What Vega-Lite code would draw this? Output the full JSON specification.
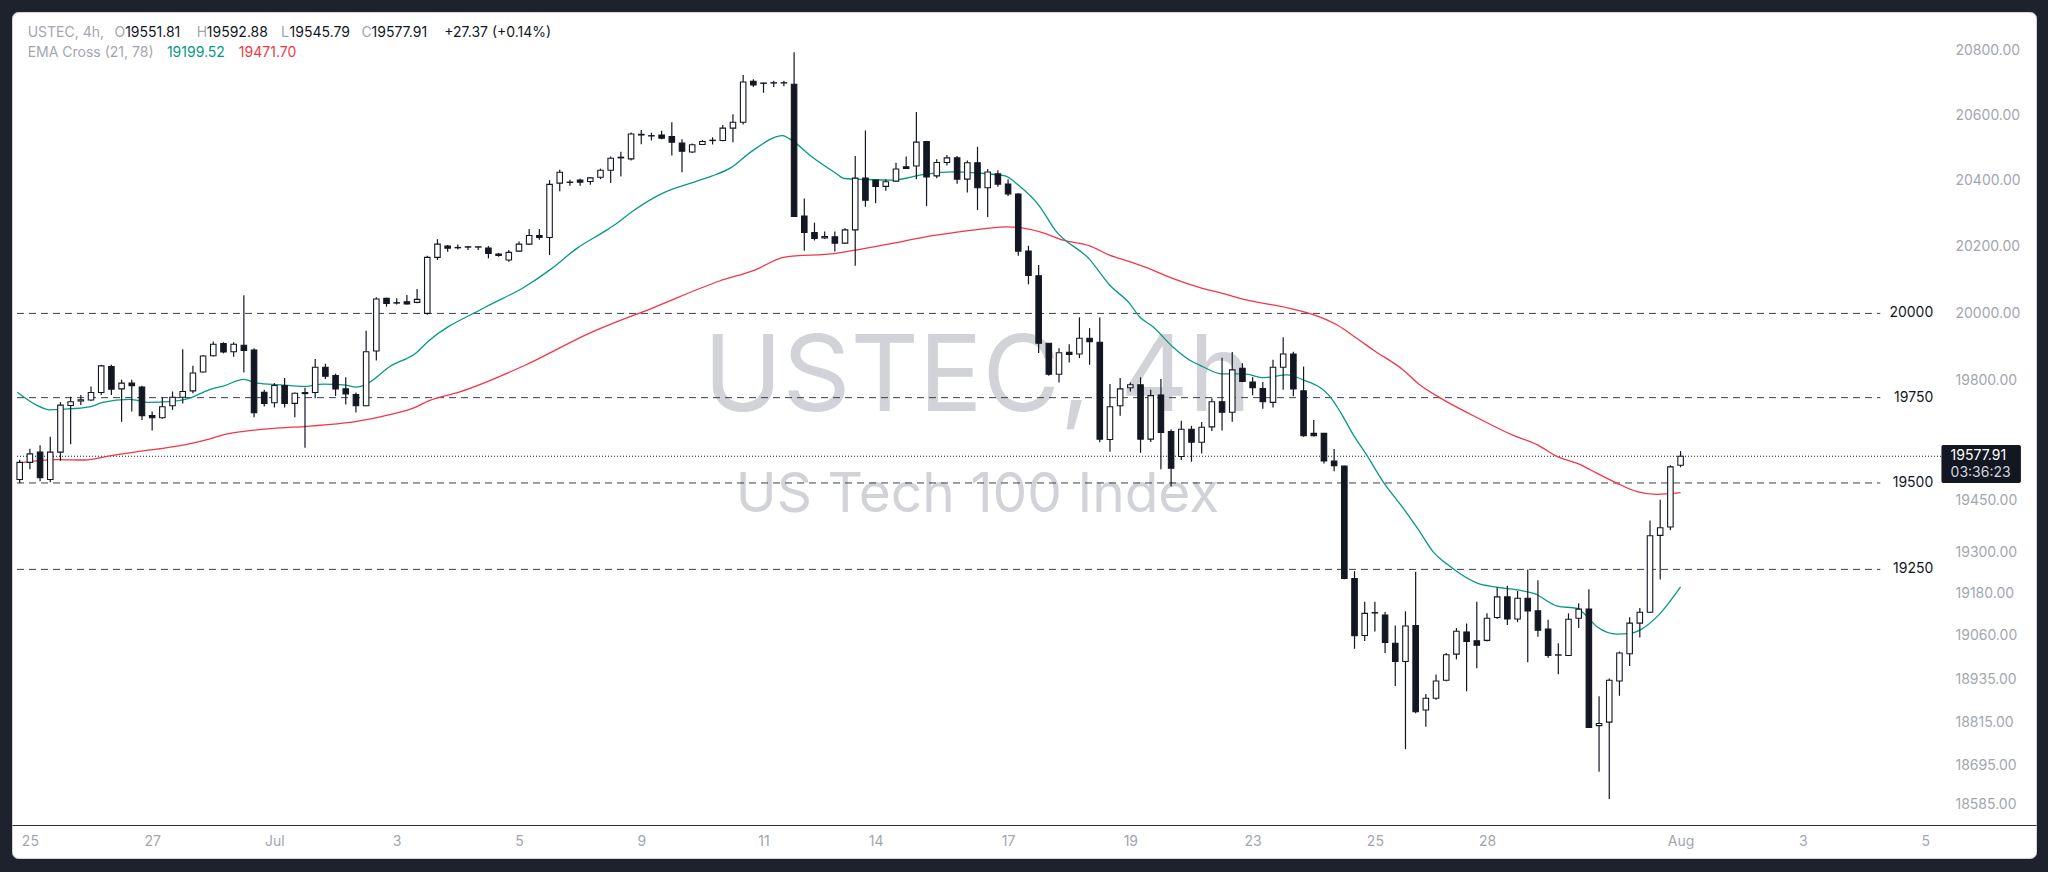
{
  "$schema": "https://vega.github.io/schema/vega-lite/v6.json",
  "width": 2024,
  "height": 846,
  "autosize": {"type": "none"},
  "padding": {"left": 12, "top": 12, "right": 12, "bottom": 14},
  "background": "#1e222d",
  "config": {
    "view": {"fill": "#ffffff", "stroke": "#d1d4dc", "cornerRadius": 6},
    "font": "Inter",
    "text": {"font": "Inter"},
    "axis": {"grid": false, "ticks": false, "title": null}
  },
  "datasets": {
    "candles": [
      {"i":0,"o":19510,"h":19568,"l":19500,"c":19560},
      {"i":1,"o":19560,"h":19600,"l":19540,"c":19585},
      {"i":2,"o":19590,"h":19610,"l":19505,"c":19515},
      {"i":3,"o":19510,"h":19635,"l":19502,"c":19590},
      {"i":4,"o":19590,"h":19737,"l":19565,"c":19728},
      {"i":5,"o":19727,"h":19753,"l":19613,"c":19738},
      {"i":6,"o":19740,"h":19758,"l":19728,"c":19744},
      {"i":7,"o":19743,"h":19783,"l":19740,"c":19765},
      {"i":8,"o":19765,"h":19847,"l":19758,"c":19844},
      {"i":9,"o":19842,"h":19847,"l":19758,"c":19775},
      {"i":10,"o":19776,"h":19803,"l":19679,"c":19793},
      {"i":11,"o":19793,"h":19803,"l":19709,"c":19785},
      {"i":12,"o":19781,"h":19785,"l":19684,"c":19697},
      {"i":13,"o":19697,"h":19709,"l":19653,"c":19691},
      {"i":14,"o":19691,"h":19751,"l":19688,"c":19723},
      {"i":15,"o":19726,"h":19768,"l":19714,"c":19751},
      {"i":16,"o":19751,"h":19893,"l":19733,"c":19768},
      {"i":17,"o":19770,"h":19844,"l":19763,"c":19823},
      {"i":18,"o":19826,"h":19876,"l":19824,"c":19873},
      {"i":19,"o":19874,"h":19916,"l":19872,"c":19908},
      {"i":20,"o":19910,"h":19914,"l":19881,"c":19885},
      {"i":21,"o":19886,"h":19914,"l":19871,"c":19908},
      {"i":22,"o":19905,"h":20054,"l":19824,"c":19890},
      {"i":23,"o":19891,"h":19896,"l":19692,"c":19706},
      {"i":24,"o":19766,"h":19773,"l":19724,"c":19733},
      {"i":25,"o":19735,"h":19793,"l":19721,"c":19786},
      {"i":26,"o":19786,"h":19808,"l":19721,"c":19733},
      {"i":27,"o":19733,"h":19765,"l":19692,"c":19763},
      {"i":28,"o":19765,"h":19779,"l":19603,"c":19762},
      {"i":29,"o":19765,"h":19864,"l":19748,"c":19840},
      {"i":30,"o":19840,"h":19850,"l":19805,"c":19813},
      {"i":31,"o":19815,"h":19821,"l":19755,"c":19776},
      {"i":32,"o":19776,"h":19810,"l":19730,"c":19761},
      {"i":33,"o":19759,"h":19765,"l":19706,"c":19726},
      {"i":34,"o":19726,"h":19948,"l":19725,"c":19886},
      {"i":35,"o":19888,"h":20048,"l":19860,"c":20043},
      {"i":36,"o":20045,"h":20047,"l":20020,"c":20030},
      {"i":37,"o":20032,"h":20045,"l":20027,"c":20031},
      {"i":38,"o":20035,"h":20055,"l":20027,"c":20028},
      {"i":39,"o":20033,"h":20073,"l":20030,"c":20042},
      {"i":40,"o":20000,"h":20173,"l":19996,"c":20168},
      {"i":41,"o":20168,"h":20223,"l":20160,"c":20208},
      {"i":42,"o":20202,"h":20205,"l":20185,"c":20196},
      {"i":43,"o":20197,"h":20207,"l":20192,"c":20198},
      {"i":44,"o":20200,"h":20201,"l":20190,"c":20199},
      {"i":45,"o":20199,"h":20201,"l":20190,"c":20200},
      {"i":46,"o":20196,"h":20202,"l":20165,"c":20180},
      {"i":47,"o":20178,"h":20181,"l":20170,"c":20174},
      {"i":48,"o":20160,"h":20190,"l":20155,"c":20183},
      {"i":49,"o":20187,"h":20216,"l":20185,"c":20208},
      {"i":50,"o":20208,"h":20254,"l":20205,"c":20234},
      {"i":51,"o":20234,"h":20254,"l":20221,"c":20228},
      {"i":52,"o":20228,"h":20402,"l":20175,"c":20389},
      {"i":53,"o":20393,"h":20434,"l":20368,"c":20426},
      {"i":54,"o":20395,"h":20403,"l":20385,"c":20396},
      {"i":55,"o":20402,"h":20406,"l":20385,"c":20396},
      {"i":56,"o":20398,"h":20411,"l":20388,"c":20409},
      {"i":57,"o":20411,"h":20437,"l":20405,"c":20432},
      {"i":58,"o":20432,"h":20474,"l":20393,"c":20469},
      {"i":59,"o":20470,"h":20489,"l":20413,"c":20472},
      {"i":60,"o":20467,"h":20548,"l":20462,"c":20543},
      {"i":61,"o":20542,"h":20555,"l":20512,"c":20540},
      {"i":62,"o":20538,"h":20547,"l":20523,"c":20537},
      {"i":63,"o":20540,"h":20553,"l":20527,"c":20530},
      {"i":64,"o":20535,"h":20579,"l":20477,"c":20518},
      {"i":65,"o":20515,"h":20527,"l":20426,"c":20490},
      {"i":66,"o":20488,"h":20514,"l":20485,"c":20510},
      {"i":67,"o":20511,"h":20525,"l":20510,"c":20520},
      {"i":68,"o":20523,"h":20533,"l":20511,"c":20524},
      {"i":69,"o":20523,"h":20571,"l":20521,"c":20561},
      {"i":70,"o":20561,"h":20604,"l":20518,"c":20579},
      {"i":71,"o":20579,"h":20725,"l":20572,"c":20703},
      {"i":72,"o":20705,"h":20712,"l":20688,"c":20694},
      {"i":73,"o":20700,"h":20701,"l":20670,"c":20699},
      {"i":74,"o":20700,"h":20707,"l":20688,"c":20701},
      {"i":75,"o":20700,"h":20707,"l":20690,"c":20701},
      {"i":76,"o":20696,"h":20795,"l":20290,"c":20292},
      {"i":77,"o":20293,"h":20346,"l":20188,"c":20243},
      {"i":78,"o":20243,"h":20273,"l":20219,"c":20225},
      {"i":79,"o":20227,"h":20246,"l":20224,"c":20231},
      {"i":80,"o":20230,"h":20246,"l":20186,"c":20211},
      {"i":81,"o":20211,"h":20256,"l":20210,"c":20251},
      {"i":82,"o":20251,"h":20476,"l":20143,"c":20408},
      {"i":83,"o":20408,"h":20554,"l":20321,"c":20341},
      {"i":84,"o":20402,"h":20403,"l":20332,"c":20383},
      {"i":85,"o":20383,"h":20405,"l":20370,"c":20397},
      {"i":86,"o":20399,"h":20455,"l":20397,"c":20436},
      {"i":87,"o":20443,"h":20474,"l":20436,"c":20438},
      {"i":88,"o":20445,"h":20611,"l":20405,"c":20518},
      {"i":89,"o":20520,"h":20522,"l":20323,"c":20412},
      {"i":90,"o":20415,"h":20466,"l":20408,"c":20456},
      {"i":91,"o":20456,"h":20479,"l":20447,"c":20470},
      {"i":92,"o":20470,"h":20476,"l":20391,"c":20405},
      {"i":93,"o":20405,"h":20462,"l":20364,"c":20455},
      {"i":94,"o":20455,"h":20504,"l":20311,"c":20379},
      {"i":95,"o":20379,"h":20436,"l":20290,"c":20427},
      {"i":96,"o":20421,"h":20432,"l":20382,"c":20390},
      {"i":97,"o":20390,"h":20405,"l":20354,"c":20360},
      {"i":98,"o":20360,"h":20362,"l":20173,"c":20187},
      {"i":99,"o":20187,"h":20203,"l":20087,"c":20114},
      {"i":100,"o":20113,"h":20145,"l":19882,"c":19911},
      {"i":101,"o":19911,"h":19912,"l":19815,"c":19819},
      {"i":102,"o":19819,"h":19896,"l":19795,"c":19883},
      {"i":103,"o":19884,"h":19908,"l":19854,"c":19878},
      {"i":104,"o":19879,"h":19988,"l":19867,"c":19926},
      {"i":105,"o":19926,"h":19956,"l":19847,"c":19916},
      {"i":106,"o":19914,"h":19988,"l":19619,"c":19628},
      {"i":107,"o":19627,"h":19790,"l":19591,"c":19723},
      {"i":108,"o":19726,"h":19808,"l":19697,"c":19776},
      {"i":109,"o":19779,"h":19795,"l":19768,"c":19788},
      {"i":110,"o":19788,"h":19810,"l":19588,"c":19628},
      {"i":111,"o":19628,"h":19773,"l":19620,"c":19756},
      {"i":112,"o":19758,"h":19805,"l":19540,"c":19648},
      {"i":113,"o":19650,"h":19657,"l":19490,"c":19543},
      {"i":114,"o":19577,"h":19682,"l":19567,"c":19657},
      {"i":115,"o":19657,"h":19667,"l":19562,"c":19619},
      {"i":116,"o":19619,"h":19678,"l":19586,"c":19663},
      {"i":117,"o":19664,"h":19748,"l":19652,"c":19738},
      {"i":118,"o":19738,"h":19868,"l":19653,"c":19707},
      {"i":119,"o":19707,"h":19885,"l":19679,"c":19832},
      {"i":120,"o":19837,"h":19852,"l":19796,"c":19798},
      {"i":121,"o":19796,"h":19810,"l":19757,"c":19779},
      {"i":122,"o":19777,"h":19796,"l":19717,"c":19738},
      {"i":123,"o":19736,"h":19862,"l":19721,"c":19840},
      {"i":124,"o":19840,"h":19929,"l":19773,"c":19879},
      {"i":125,"o":19879,"h":19886,"l":19754,"c":19776},
      {"i":126,"o":19770,"h":19842,"l":19635,"c":19638},
      {"i":127,"o":19645,"h":19684,"l":19636,"c":19638},
      {"i":128,"o":19645,"h":19646,"l":19557,"c":19564},
      {"i":129,"o":19564,"h":19599,"l":19534,"c":19550},
      {"i":130,"o":19549,"h":19550,"l":19222,"c":19224},
      {"i":131,"o":19224,"h":19245,"l":19023,"c":19060},
      {"i":132,"o":19061,"h":19157,"l":19045,"c":19124},
      {"i":133,"o":19126,"h":19157,"l":19072,"c":19125},
      {"i":134,"o":19119,"h":19128,"l":19011,"c":19041},
      {"i":135,"o":19039,"h":19089,"l":18918,"c":18987},
      {"i":136,"o":18987,"h":19130,"l":18740,"c":19088},
      {"i":137,"o":19089,"h":19243,"l":18841,"c":18845},
      {"i":138,"o":18850,"h":18895,"l":18803,"c":18883},
      {"i":139,"o":18883,"h":18950,"l":18879,"c":18932},
      {"i":140,"o":18934,"h":19011,"l":18931,"c":19006},
      {"i":141,"o":19008,"h":19082,"l":18993,"c":19073},
      {"i":142,"o":19071,"h":19095,"l":18903,"c":19044},
      {"i":143,"o":19046,"h":19157,"l":18968,"c":19033},
      {"i":144,"o":19047,"h":19124,"l":19044,"c":19110},
      {"i":145,"o":19112,"h":19199,"l":19108,"c":19171},
      {"i":146,"o":19171,"h":19203,"l":19091,"c":19108},
      {"i":147,"o":19108,"h":19188,"l":19099,"c":19167},
      {"i":148,"o":19167,"h":19250,"l":18985,"c":19131},
      {"i":149,"o":19131,"h":19219,"l":19057,"c":19076},
      {"i":150,"o":19079,"h":19106,"l":18998,"c":19004},
      {"i":151,"o":19005,"h":19039,"l":18951,"c":19006},
      {"i":152,"o":19004,"h":19124,"l":19003,"c":19107},
      {"i":153,"o":19110,"h":19153,"l":19082,"c":19136},
      {"i":154,"o":19136,"h":19193,"l":18800,"c":18801},
      {"i":155,"o":18806,"h":18889,"l":18677,"c":18812},
      {"i":156,"o":18816,"h":18939,"l":18601,"c":18934},
      {"i":157,"o":18932,"h":19015,"l":18890,"c":19011},
      {"i":158,"o":19009,"h":19113,"l":18974,"c":19096},
      {"i":159,"o":19096,"h":19139,"l":19055,"c":19127},
      {"i":160,"o":19127,"h":19391,"l":19125,"c":19347},
      {"i":161,"o":19348,"h":19451,"l":19221,"c":19370},
      {"i":162,"o":19372,"h":19552,"l":19363,"c":19547},
      {"i":163,"o":19551.81,"h":19592.88,"l":19545.79,"c":19577.91}
    ],
    "ema21": [
      {"i":-0.23,"v":19766},{"i":1.66,"v":19728},{"i":2.96,"v":19714},{"i":4.23,"v":19716},{"i":6.87,"v":19723},
      {"i":8.14,"v":19736},{"i":10.77,"v":19745},{"i":12.72,"v":19736},{"i":14.68,"v":19738},{"i":16.63,"v":19748},
      {"i":18.58,"v":19773},{"i":20.05,"v":19785},{"i":22.0,"v":19804},{"i":23.3,"v":19793},{"i":25.59,"v":19788},
      {"i":27.86,"v":19783},{"i":29.81,"v":19790},{"i":31.77,"v":19788},{"i":33.07,"v":19781},{"i":34.04,"v":19790},
      {"i":36.33,"v":19842},{"i":38.93,"v":19883},{"i":40.07,"v":19916},{"i":45.73,"v":20019},{"i":49.54,"v":20079},
      {"i":52.1,"v":20132},{"i":54.72,"v":20196},{"i":57.32,"v":20245},{"i":58.62,"v":20271},{"i":60.09,"v":20306},
      {"i":63.02,"v":20361},{"i":66.27,"v":20397},{"i":67.9,"v":20414},{"i":69.85,"v":20441},{"i":71.8,"v":20489},
      {"i":74.9,"v":20538},{"i":75.71,"v":20525},{"i":77.83,"v":20471},{"i":80.1,"v":20423},{"i":80.92,"v":20407},
      {"i":83.04,"v":20404},{"i":85.65,"v":20402},{"i":88.9,"v":20420},{"i":91.5,"v":20427},{"i":93.78,"v":20424},
      {"i":96.71,"v":20415},{"i":98.0,"v":20387},{"i":100.13,"v":20321},{"i":101.6,"v":20251},{"i":105.0,"v":20162},
      {"i":106.96,"v":20085},{"i":108.92,"v":20030},{"i":109.9,"v":19990},{"i":111.19,"v":19961},{"i":113.14,"v":19901},
      {"i":115.1,"v":19856},{"i":116.07,"v":19842},{"i":118.03,"v":19820},{"i":120.15,"v":19820},{"i":122.1,"v":19809},
      {"i":124.38,"v":19817},{"i":126.0,"v":19802},{"i":128.6,"v":19753},{"i":129.6,"v":19708},{"i":130.9,"v":19640},
      {"i":132.2,"v":19581},{"i":133.8,"v":19504},{"i":135.77,"v":19427},{"i":137.4,"v":19359},{"i":138.7,"v":19301},
      {"i":140.17,"v":19263},{"i":143.1,"v":19210},{"i":144.73,"v":19200},{"i":147.0,"v":19191},{"i":148.6,"v":19181},
      {"i":150.9,"v":19145},{"i":152.86,"v":19138},{"i":153.5,"v":19124},{"i":154.8,"v":19086},{"i":156.77,"v":19065},
      {"i":158.07,"v":19067},{"i":159.04,"v":19077},{"i":161.0,"v":19124},{"i":163,"v":19199.52}
    ],
    "ema78": [
      {"i":-0.26,"v":19557},{"i":3.45,"v":19568},{"i":6.38,"v":19567},{"i":8.82,"v":19579},{"i":11.43,"v":19591},
      {"i":14.02,"v":19601},{"i":16.63,"v":19614},{"i":18.58,"v":19628},{"i":20.05,"v":19641},{"i":22.0,"v":19651},
      {"i":25.59,"v":19661},{"i":27.86,"v":19665},{"i":33.07,"v":19680},{"i":36.33,"v":19700},{"i":38.93,"v":19723},
      {"i":40.07,"v":19740},{"i":43.19,"v":19767},{"i":49.54,"v":19845},{"i":55.99,"v":19942},{"i":62.33,"v":20019},
      {"i":68.68,"v":20097},{"i":72.13,"v":20130},{"i":75.09,"v":20169},{"i":80.11,"v":20180},{"i":82.06,"v":20190},
      {"i":85.64,"v":20210},{"i":88.9,"v":20230},{"i":92.15,"v":20245},{"i":94.76,"v":20255},{"i":96.88,"v":20260},
      {"i":98.34,"v":20257},{"i":100.13,"v":20245},{"i":102.4,"v":20220},{"i":105.0,"v":20203},{"i":106.96,"v":20175},
      {"i":108.92,"v":20155},{"i":111.19,"v":20130},{"i":113.14,"v":20105},{"i":116.07,"v":20075},{"i":118.03,"v":20060},
      {"i":120.15,"v":20042},{"i":124.54,"v":20016},{"i":127.37,"v":19992},{"i":129.26,"v":19966},{"i":131.21,"v":19926},
      {"i":132.84,"v":19891},{"i":135.77,"v":19832},{"i":137.4,"v":19788},{"i":139.36,"v":19750},{"i":140.17,"v":19736},
      {"i":143.1,"v":19690},{"i":146.52,"v":19640},{"i":148.96,"v":19611},{"i":150.9,"v":19577},{"i":152.86,"v":19557},
      {"i":154.82,"v":19528},{"i":156.77,"v":19499},{"i":158.72,"v":19475},{"i":160.67,"v":19467},{"i":163,"v":19471.7}
    ],
    "levels": [
      {"level": 20000, "label": "20000"},
      {"level": 19750, "label": "19750"},
      {"level": 19500, "label": "19500"},
      {"level": 19250, "label": "19250"}
    ],
    "last": [{"price": 19577.91, "timer": "03:36:23"}]
  },
  "layer": [
    {
      "data": {"values": [{"t": "USTEC, 4h"}]},
      "mark": {"type": "text", "align": "center", "baseline": "alphabetic", "fontSize": 106, "color": "#d1d3d9"},
      "encoding": {
        "x": {"datum": 94.0, "type": "quantitative", "scale": {"type": "linear", "domain": [-0.264, 197.39], "nice": false, "zero": false}},
        "y": {"datum": 19710.6, "type": "quantitative", "scale": {"type": "log", "domain": [18438, 20920.7], "nice": false, "zero": false}},
        "text": {"field": "t"}
      }
    },
    {
      "data": {"values": [{"t": "US Tech 100 Index"}]},
      "mark": {"type": "text", "align": "center", "baseline": "alphabetic", "fontSize": 55, "color": "#d1d3d9"},
      "encoding": {
        "x": {"datum": 94.0, "type": "quantitative", "scale": {"type": "linear", "domain": [-0.264, 197.39], "nice": false, "zero": false}},
        "y": {"datum": 19415.6, "type": "quantitative", "scale": {"type": "log", "domain": [18438, 20920.7], "nice": false, "zero": false}},
        "text": {"field": "t"}
      }
    },
    {
      "data": {"name": "levels"},
      "mark": {"type": "rule", "color": "#3c3f4a", "strokeWidth": 1, "strokeDash": [7, 5]},
      "encoding": {
        "x": {"datum": -0.264, "type": "quantitative", "scale": {"type": "linear", "domain": [-0.264, 197.39], "nice": false, "zero": false}},
        "x2": {"datum": 182.6},
        "y": {"field": "level", "type": "quantitative", "scale": {"type": "log", "domain": [18438, 20920.7], "nice": false, "zero": false}}
      }
    },
    {
      "data": {"name": "levels"},
      "mark": {"type": "text", "align": "right", "baseline": "middle", "fontSize": 14, "color": "#131722"},
      "encoding": {
        "x": {"datum": 187.8, "type": "quantitative", "scale": {"type": "linear", "domain": [-0.264, 197.39], "nice": false, "zero": false}},
        "y": {"field": "level", "type": "quantitative", "scale": {"type": "log", "domain": [18438, 20920.7], "nice": false, "zero": false}},
        "text": {"field": "label"}
      }
    },
    {
      "data": {"name": "last"},
      "mark": {"type": "rule", "color": "#131722", "strokeWidth": 1, "strokeDash": [1, 2]},
      "encoding": {
        "x": {"datum": -0.264, "type": "quantitative", "scale": {"type": "linear", "domain": [-0.264, 197.39], "nice": false, "zero": false}},
        "x2": {"datum": 188.6},
        "y": {"field": "price", "type": "quantitative", "scale": {"type": "log", "domain": [18438, 20920.7], "nice": false, "zero": false}}
      }
    },
    {
      "data": {"name": "ema78"},
      "mark": {"type": "line", "color": "#f23645", "strokeWidth": 1.3, "interpolate": "monotone"},
      "encoding": {
        "x": {"field": "i", "type": "quantitative", "scale": {"type": "linear", "domain": [-0.264, 197.39], "nice": false, "zero": false}},
        "y": {"field": "v", "type": "quantitative", "scale": {"type": "log", "domain": [18438, 20920.7], "nice": false, "zero": false}}
      }
    },
    {
      "data": {"name": "ema21"},
      "mark": {"type": "line", "color": "#089981", "strokeWidth": 1.3, "interpolate": "monotone"},
      "encoding": {
        "x": {"field": "i", "type": "quantitative", "scale": {"type": "linear", "domain": [-0.264, 197.39], "nice": false, "zero": false}},
        "y": {"field": "v", "type": "quantitative", "scale": {"type": "log", "domain": [18438, 20920.7], "nice": false, "zero": false}}
      }
    },
    {
      "data": {"name": "candles"},
      "mark": {"type": "rule", "color": "#131722", "strokeWidth": 1.2},
      "encoding": {
        "x": {"field": "i", "type": "quantitative", "scale": {"type": "linear", "domain": [-0.264, 197.39], "nice": false, "zero": false}},
        "y": {"field": "l", "type": "quantitative", "scale": {"type": "log", "domain": [18438, 20920.7], "nice": false, "zero": false}},
        "y2": {"field": "h"}
      }
    },
    {
      "data": {"name": "candles"},
      "mark": {"type": "bar", "width": 5.5, "stroke": "#131722", "strokeWidth": 1.1},
      "encoding": {
        "x": {
          "field": "i", "type": "quantitative",
          "scale": {"type": "linear", "domain": [-0.264, 197.39], "nice": false, "zero": false},
          "axis": {
            "orient": "bottom", "offset": -33, "title": null,
            "values": [1, 13, 25, 37, 49, 61, 73, 84, 97, 109, 121, 133, 144, 163, 175, 187],
            "labelExpr": "({'1':'25','13':'27','25':'Jul','37':'3','49':'5','61':'9','73':'11','84':'14','97':'17','109':'19','121':'23','133':'25','144':'28','163':'Aug','175':'3','187':'5'})[datum.value]",
            "domain": true, "domainColor": "#2a2e39", "domainWidth": 1,
            "ticks": false, "grid": false,
            "labelColor": "#a3a6af", "labelFontSize": 14, "labelFont": "Inter", "labelPadding": 9,
            "labelFlush": false, "labelOverlap": false
          }
        },
        "y": {
          "field": "o", "type": "quantitative",
          "scale": {"type": "log", "domain": [18438, 20920.7], "nice": false, "zero": false},
          "axis": {
            "orient": "right", "offset": -90, "title": null,
            "values": [18585, 18695, 18815, 18935, 19060, 19180, 19300, 19450, 19800, 20000, 20200, 20400, 20600, 20800],
            "format": ".2f",
            "domain": false, "ticks": false, "grid": false,
            "labelColor": "#a3a6af", "labelFontSize": 14, "labelFont": "Inter", "labelPadding": 9,
            "labelFlush": false, "labelOverlap": false
          }
        },
        "y2": {"field": "c"},
        "fill": {"condition": {"test": "datum.c >= datum.o", "value": "#ffffff"}, "value": "#131722"}
      }
    },
    {
      "data": {"values": [{"t": "USTEC, 4h,"}]},
      "mark": {"type": "text", "align": "left", "baseline": "alphabetic", "fontSize": 14, "color": "#a3a6af"},
      "encoding": {
        "x": {"datum": 0.781, "type": "quantitative", "scale": {"type": "linear", "domain": [-0.264, 197.39], "nice": false, "zero": false}},
        "y": {"datum": 20844.3, "type": "quantitative", "scale": {"type": "log", "domain": [18438, 20920.7], "nice": false, "zero": false}},
        "text": {"field": "t"}
      }
    },
    {
      "data": {"values": [{"t": "O"}]},
      "mark": {"type": "text", "align": "left", "baseline": "alphabetic", "fontSize": 14, "color": "#a3a6af"},
      "encoding": {
        "x": {"datum": 9.307, "type": "quantitative", "scale": {"type": "linear", "domain": [-0.264, 197.39], "nice": false, "zero": false}},
        "y": {"datum": 20844.3, "type": "quantitative", "scale": {"type": "log", "domain": [18438, 20920.7], "nice": false, "zero": false}},
        "text": {"field": "t"}
      }
    },
    {
      "data": {"values": [{"t": "19551.81"}]},
      "mark": {"type": "text", "align": "left", "baseline": "alphabetic", "fontSize": 14, "color": "#131722"},
      "encoding": {
        "x": {"datum": 10.35, "type": "quantitative", "scale": {"type": "linear", "domain": [-0.264, 197.39], "nice": false, "zero": false}},
        "y": {"datum": 20844.3, "type": "quantitative", "scale": {"type": "log", "domain": [18438, 20920.7], "nice": false, "zero": false}},
        "text": {"field": "t"}
      }
    },
    {
      "data": {"values": [{"t": "H"}]},
      "mark": {"type": "text", "align": "left", "baseline": "alphabetic", "fontSize": 14, "color": "#a3a6af"},
      "encoding": {
        "x": {"datum": 17.38, "type": "quantitative", "scale": {"type": "linear", "domain": [-0.264, 197.39], "nice": false, "zero": false}},
        "y": {"datum": 20844.3, "type": "quantitative", "scale": {"type": "log", "domain": [18438, 20920.7], "nice": false, "zero": false}},
        "text": {"field": "t"}
      }
    },
    {
      "data": {"values": [{"t": "19592.88"}]},
      "mark": {"type": "text", "align": "left", "baseline": "alphabetic", "fontSize": 14, "color": "#131722"},
      "encoding": {
        "x": {"datum": 18.36, "type": "quantitative", "scale": {"type": "linear", "domain": [-0.264, 197.39], "nice": false, "zero": false}},
        "y": {"datum": 20844.3, "type": "quantitative", "scale": {"type": "log", "domain": [18438, 20920.7], "nice": false, "zero": false}},
        "text": {"field": "t"}
      }
    },
    {
      "data": {"values": [{"t": "L"}]},
      "mark": {"type": "text", "align": "left", "baseline": "alphabetic", "fontSize": 14, "color": "#a3a6af"},
      "encoding": {
        "x": {"datum": 25.64, "type": "quantitative", "scale": {"type": "linear", "domain": [-0.264, 197.39], "nice": false, "zero": false}},
        "y": {"datum": 20844.3, "type": "quantitative", "scale": {"type": "log", "domain": [18438, 20920.7], "nice": false, "zero": false}},
        "text": {"field": "t"}
      }
    },
    {
      "data": {"values": [{"t": "19545.79"}]},
      "mark": {"type": "text", "align": "left", "baseline": "alphabetic", "fontSize": 14, "color": "#131722"},
      "encoding": {
        "x": {"datum": 26.49, "type": "quantitative", "scale": {"type": "linear", "domain": [-0.264, 197.39], "nice": false, "zero": false}},
        "y": {"datum": 20844.3, "type": "quantitative", "scale": {"type": "log", "domain": [18438, 20920.7], "nice": false, "zero": false}},
        "text": {"field": "t"}
      }
    },
    {
      "data": {"values": [{"t": "C"}]},
      "mark": {"type": "text", "align": "left", "baseline": "alphabetic", "fontSize": 14, "color": "#a3a6af"},
      "encoding": {
        "x": {"datum": 33.55, "type": "quantitative", "scale": {"type": "linear", "domain": [-0.264, 197.39], "nice": false, "zero": false}},
        "y": {"datum": 20844.3, "type": "quantitative", "scale": {"type": "log", "domain": [18438, 20920.7], "nice": false, "zero": false}},
        "text": {"field": "t"}
      }
    },
    {
      "data": {"values": [{"t": "19577.91"}]},
      "mark": {"type": "text", "align": "left", "baseline": "alphabetic", "fontSize": 14, "color": "#131722"},
      "encoding": {
        "x": {"datum": 34.53, "type": "quantitative", "scale": {"type": "linear", "domain": [-0.264, 197.39], "nice": false, "zero": false}},
        "y": {"datum": 20844.3, "type": "quantitative", "scale": {"type": "log", "domain": [18438, 20920.7], "nice": false, "zero": false}},
        "text": {"field": "t"}
      }
    },
    {
      "data": {"values": [{"t": "+27.37 (+0.14%)"}]},
      "mark": {"type": "text", "align": "left", "baseline": "alphabetic", "fontSize": 14, "color": "#131722"},
      "encoding": {
        "x": {"datum": 41.67, "type": "quantitative", "scale": {"type": "linear", "domain": [-0.264, 197.39], "nice": false, "zero": false}},
        "y": {"datum": 20844.3, "type": "quantitative", "scale": {"type": "log", "domain": [18438, 20920.7], "nice": false, "zero": false}},
        "text": {"field": "t"}
      }
    },
    {
      "data": {"values": [{"t": "EMA Cross (21, 78)"}]},
      "mark": {"type": "text", "align": "left", "baseline": "alphabetic", "fontSize": 14, "color": "#a3a6af"},
      "encoding": {
        "x": {"datum": 0.781, "type": "quantitative", "scale": {"type": "linear", "domain": [-0.264, 197.39], "nice": false, "zero": false}},
        "y": {"datum": 20779.6, "type": "quantitative", "scale": {"type": "log", "domain": [18438, 20920.7], "nice": false, "zero": false}},
        "text": {"field": "t"}
      }
    },
    {
      "data": {"values": [{"t": "19199.52"}]},
      "mark": {"type": "text", "align": "left", "baseline": "alphabetic", "fontSize": 14, "color": "#089981"},
      "encoding": {
        "x": {"datum": 14.45, "type": "quantitative", "scale": {"type": "linear", "domain": [-0.264, 197.39], "nice": false, "zero": false}},
        "y": {"datum": 20779.6, "type": "quantitative", "scale": {"type": "log", "domain": [18438, 20920.7], "nice": false, "zero": false}},
        "text": {"field": "t"}
      }
    },
    {
      "data": {"values": [{"t": "19471.70"}]},
      "mark": {"type": "text", "align": "left", "baseline": "alphabetic", "fontSize": 14, "color": "#f23645"},
      "encoding": {
        "x": {"datum": 21.51, "type": "quantitative", "scale": {"type": "linear", "domain": [-0.264, 197.39], "nice": false, "zero": false}},
        "y": {"datum": 20779.6, "type": "quantitative", "scale": {"type": "log", "domain": [18438, 20920.7], "nice": false, "zero": false}},
        "text": {"field": "t"}
      }
    },
    {
      "data": {"name": "last"},
      "mark": {"type": "rect", "color": "#131722", "cornerRadius": 2},
      "encoding": {
        "x": {"datum": 188.6, "type": "quantitative", "scale": {"type": "linear", "domain": [-0.264, 197.39], "nice": false, "zero": false}},
        "x2": {"datum": 196.4},
        "y": {"datum": 19610.8, "type": "quantitative", "scale": {"type": "log", "domain": [18438, 20920.7], "nice": false, "zero": false}},
        "y2": {"datum": 19499.9}
      }
    },
    {
      "data": {"name": "last"},
      "mark": {"type": "text", "align": "left", "baseline": "middle", "fontSize": 14, "color": "#ffffff"},
      "encoding": {
        "x": {"datum": 189.5, "type": "quantitative", "scale": {"type": "linear", "domain": [-0.264, 197.39], "nice": false, "zero": false}},
        "y": {"field": "price", "type": "quantitative", "scale": {"type": "log", "domain": [18438, 20920.7], "nice": false, "zero": false}},
        "text": {"field": "price", "type": "quantitative", "format": ".2f"}
      }
    },
    {
      "data": {"name": "last"},
      "mark": {"type": "text", "align": "left", "baseline": "middle", "fontSize": 14, "color": "#d1d4dc"},
      "encoding": {
        "x": {"datum": 189.5, "type": "quantitative", "scale": {"type": "linear", "domain": [-0.264, 197.39], "nice": false, "zero": false}},
        "y": {"datum": 19529, "type": "quantitative", "scale": {"type": "log", "domain": [18438, 20920.7], "nice": false, "zero": false}},
        "text": {"field": "timer"}
      }
    }
  ]
}
